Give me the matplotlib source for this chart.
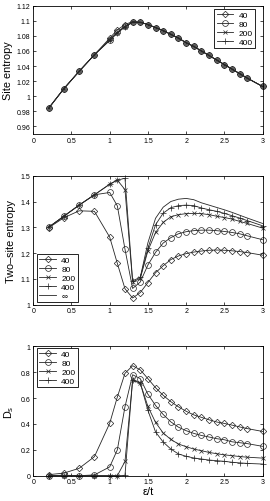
import matplotlib
matplotlib.use("Agg")
import matplotlib.pyplot as plt
from matplotlib.ticker import FuncFormatter

# x positions (epsilon / t)
eps = [0.2, 0.4, 0.6, 0.8, 1.0, 1.1, 1.2, 1.3, 1.4, 1.5, 1.6, 1.7, 1.8, 1.9,
       2.0, 2.1, 2.2, 2.3, 2.4, 2.5, 2.6, 2.7, 2.8, 3.0]
eps_inf = [1.4, 1.5, 1.6, 1.7, 1.8, 1.9, 2.0, 2.1, 2.2, 2.3, 2.4, 2.5, 2.6,
           2.7, 2.8, 3.0]
labels = ["40", "80", "200", "400"]

# site entropy
site_40 = [0.984, 1.010, 1.033, 1.055, 1.077, 1.088, 1.095, 1.099, 1.098, 1.095,
           1.091, 1.087, 1.082, 1.077, 1.071, 1.066, 1.060, 1.054, 1.048, 1.042,
           1.036, 1.030, 1.024, 1.013]
site_80 = [0.984, 1.010, 1.033, 1.055, 1.075, 1.085, 1.093, 1.098, 1.098, 1.095,
           1.091, 1.087, 1.082, 1.077, 1.071, 1.066, 1.060, 1.054, 1.048, 1.042,
           1.036, 1.030, 1.024, 1.013]
site_200 = [0.984, 1.010, 1.033, 1.055, 1.074, 1.084, 1.092, 1.098, 1.098, 1.095,
            1.091, 1.087, 1.082, 1.077, 1.071, 1.066, 1.060, 1.054, 1.048, 1.042,
            1.036, 1.030, 1.024, 1.013]
site_400 = [0.984, 1.010, 1.033, 1.055, 1.074, 1.084, 1.092, 1.098, 1.098, 1.095,
            1.091, 1.087, 1.082, 1.077, 1.071, 1.066, 1.060, 1.054, 1.048, 1.042,
            1.036, 1.030, 1.024, 1.013]

# two-site entropy
two_40 = [1.298, 1.337, 1.364, 1.362, 1.262, 1.160, 1.062, 1.026, 1.047, 1.086,
          1.124, 1.151, 1.175, 1.189, 1.198, 1.204, 1.208, 1.211, 1.212, 1.211,
          1.209, 1.206, 1.202, 1.192]
two_80 = [1.300, 1.343, 1.386, 1.426, 1.435, 1.383, 1.215, 1.063, 1.088, 1.154,
          1.203, 1.239, 1.260, 1.275, 1.283, 1.287, 1.289, 1.289, 1.287, 1.284,
          1.280, 1.275, 1.267, 1.252]
two_200 = [1.300, 1.343, 1.386, 1.426, 1.467, 1.483, 1.446, 1.088, 1.102, 1.209,
           1.280, 1.319, 1.341, 1.349, 1.353, 1.354, 1.353, 1.349, 1.343, 1.338,
           1.332, 1.323, 1.315, 1.297]
two_400 = [1.300, 1.343, 1.386, 1.426, 1.467, 1.483, 1.490, 1.093, 1.106, 1.218,
           1.310, 1.355, 1.376, 1.384, 1.386, 1.384, 1.375, 1.368, 1.362, 1.354,
           1.345, 1.336, 1.326, 1.306]
two_inf = [1.106, 1.240, 1.335, 1.378, 1.400, 1.409, 1.412, 1.407, 1.395, 1.386,
           1.377, 1.368, 1.358, 1.347, 1.336, 1.315]

# D_s
ds_40 = [0.008, 0.020, 0.057, 0.147, 0.405, 0.608, 0.791, 0.850, 0.818, 0.750,
         0.680, 0.621, 0.572, 0.532, 0.498, 0.470, 0.451, 0.432, 0.415, 0.404,
         0.391, 0.377, 0.364, 0.342]
ds_80 = [0.0, 0.004, 0.0, 0.006, 0.068, 0.200, 0.533, 0.780, 0.750, 0.630,
         0.543, 0.473, 0.416, 0.375, 0.348, 0.327, 0.311, 0.299, 0.286, 0.278,
         0.262, 0.255, 0.248, 0.227]
ds_200 = [0.0, 0.0, 0.0, 0.0, 0.0, 0.0, 0.110, 0.736, 0.715, 0.535,
          0.412, 0.330, 0.280, 0.245, 0.224, 0.206, 0.193, 0.180, 0.170, 0.161,
          0.155, 0.148, 0.143, 0.136]
ds_400 = [0.0, 0.0, 0.0, 0.0, 0.0, 0.0, 0.003, 0.742, 0.717, 0.505,
          0.338, 0.260, 0.206, 0.168, 0.150, 0.137, 0.129, 0.121, 0.116, 0.111,
          0.104, 0.099, 0.095, 0.090]

plt.rcParams['font.family'] = ['Liberation Sans', 'DejaVu Sans']
plt.rcParams['xtick.direction'] = 'in'
plt.rcParams['ytick.direction'] = 'in'
plt.rcParams['xtick.top'] = True
plt.rcParams['ytick.right'] = True
plt.rcParams['xtick.major.size'] = 2
plt.rcParams['ytick.major.size'] = 2
plt.rcParams['xtick.major.width'] = 0.5
plt.rcParams['ytick.major.width'] = 0.5
plt.rcParams['xtick.labelsize'] = 5
plt.rcParams['ytick.labelsize'] = 5
plt.rcParams['xtick.major.pad'] = 2
plt.rcParams['ytick.major.pad'] = 2
plt.rcParams['axes.linewidth'] = 0.6

markers = ['D', 'o', 'x', '+']
msizes = [3.3, 4.2, 3.5, 4.5]
line_kw = dict(color='0.15', lw=0.6, mfc='none', mec='0.15', mew=0.5, clip_on=False)

fig = plt.figure(figsize=(2.7, 5.02), dpi=100)
ax1 = fig.add_axes([0.1233, 0.7311, 0.849, 0.2556])
ax2 = fig.add_axes([0.1233, 0.391, 0.849, 0.257])
ax3 = fig.add_axes([0.1233, 0.0504, 0.849, 0.2578])

fmt = FuncFormatter(lambda v, p: '%g' % round(v, 4))


def legend(ax, loc, anchor):
    leg = ax.legend(loc=loc, bbox_to_anchor=anchor, borderaxespad=0, fontsize=6,
                    fancybox=False, frameon=True, framealpha=1, edgecolor='k',
                    handlelength=2.0, handletextpad=0.6, labelspacing=0.12,
                    borderpad=0.3)
    leg.get_frame().set_linewidth(0.6)


# site entropy
for ys, m, ms, lab in zip([site_40, site_80, site_200, site_400], markers, msizes, labels):
    ax1.plot(eps, ys, marker=m, ms=ms, label=lab, **line_kw)
ax1.set_xlim(0, 3)
ax1.set_ylim(0.95, 1.12)
ax1.set_yticks([0.96, 0.98, 1.0, 1.02, 1.04, 1.06, 1.08, 1.1, 1.12])
ax1.set_ylabel('Site entropy', fontsize=7.8, labelpad=3)
legend(ax1, 'upper right', (0.967, 0.974))

# two-site entropy
for ys, m, ms, lab in zip([two_40, two_80, two_200, two_400], markers, msizes, labels):
    ax2.plot(eps, ys, marker=m, ms=ms, label=lab, **line_kw)
ax2.plot(eps_inf, two_inf, label='\u221e', **line_kw)
ax2.set_xlim(0, 3)
ax2.set_ylim(1.0, 1.5)
ax2.set_yticks([1.0, 1.1, 1.2, 1.3, 1.4, 1.5])
ax2.set_ylabel('Two\u2013site entropy', fontsize=7.8, labelpad=3)
legend(ax2, 'lower left', (0.016, 0.021))

# D_s
for ys, m, ms, lab in zip([ds_40, ds_80, ds_200, ds_400], markers, msizes, labels):
    ax3.plot(eps, ys, marker=m, ms=ms, label=lab, **line_kw)
ax3.set_xlim(0, 3)
ax3.set_ylim(0, 1)
ax3.set_yticks([0, 0.2, 0.4, 0.6, 0.8, 1.0])
ax3.set_ylabel('D$_\\mathregular{s}$', fontsize=7.8, labelpad=3)
ax3.set_xlabel('\u03b5/t', fontsize=8, labelpad=0.5)
legend(ax3, 'upper left', (0.016, 0.987))

for ax in (ax1, ax2, ax3):
    ax.set_xticks([0, 0.5, 1, 1.5, 2, 2.5, 3])
    ax.xaxis.set_major_formatter(fmt)
    ax.yaxis.set_major_formatter(fmt)

fig.savefig('out.png', dpi=100)
